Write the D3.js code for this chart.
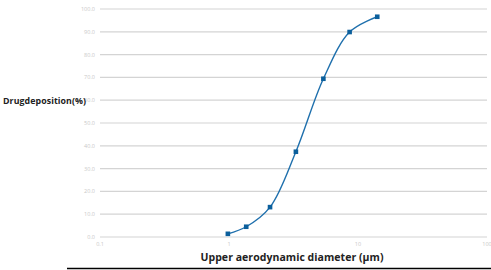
<!DOCTYPE html>
<html>
<head>
<meta charset="utf-8">
<script src="https://cdn.jsdelivr.net/npm/d3@7"></script>
<style>
  body { margin: 0; background: #fff; }
  text { font-family: "Open Sans", "Noto Sans", sans-serif; }
</style>
</head>
<body>
<svg width="491" height="270"></svg>
<script>
const svg = d3.select('svg')

// cut-off diameters (µm) and cumulative deposition (%)
const diameters = [0.98, 1.36, 2.08, 3.30, 5.39, 8.61, 14.1]
const deposition = [1.4, 4.5, 13.1, 37.4, 69.4, 89.9, 96.6]
const yTicks = [0, 10, 20, 30, 40, 50, 60, 70, 80, 90, 100]
const xTicks = [0.1, 1, 10, 100]

const points = diameters.map((d, i) => ({ x: d, y: deposition[i] }))

const x = d3.scaleLog()
    .domain([0.1, 100])
    .range([100, 487])

const y = d3.scaleLinear()
    .domain([0, 100])
    .range([237, 9])

// gridlines
svg.append('g')
    .selectAll('line')
    .data(yTicks)
    .enter().append('line')
        .attr('x1', 100)
        .attr('x2', 487)
        .attr('y1', d => y(d))
        .attr('y2', d => y(d))
        .attr('stroke', '#d4d4d4')
        .attr('stroke-width', 1.2)

// y tick labels
svg.append('g')
    .selectAll('text')
    .data(yTicks)
    .enter().append('text')
        .attr('x', 95)
        .attr('y', d => y(d))
        .attr('dy', '0.35em')
        .attr('text-anchor', 'end')
        .attr('font-size', 5.5)
        .attr('fill', '#c8c8c8')
        .text(d => d.toFixed(1))

// x tick labels
svg.append('g')
    .selectAll('text')
    .data(xTicks)
    .enter().append('text')
        .attr('x', d => x(d))
        .attr('y', 246)
        .attr('text-anchor', 'middle')
        .attr('font-size', 5.5)
        .attr('fill', '#c8c8c8')
        .text(d => d)

// curve
const line = d3.line()
    .x(d => x(d.x))
    .y(d => y(d.y))
    .curve(d3.curveCatmullRom.alpha(0.5))

svg.append('path')
    .datum(points)
    .attr('d', line)
    .attr('fill', 'none')
    .attr('stroke', '#1f70ad')
    .attr('stroke-width', 1.4)

// markers
const ms = 4.6
svg.append('g')
    .selectAll('rect')
    .data(points)
    .enter().append('rect')
        .attr('x', d => x(d.x) - ms / 2)
        .attr('y', d => y(d.y) - ms / 2)
        .attr('width', ms)
        .attr('height', ms)
        .attr('fill', '#0b5f9c')

// axis titles
svg.append('text')
    .attr('x', 3)
    .attr('y', 104)
    .attr('font-size', 8.8)
    .attr('font-weight', 'bold')
    .attr('fill', '#222')
    .attr('textLength', 83)
    .text('Drugdeposition(%)')

svg.append('text')
    .attr('x', 292)
    .attr('y', 261)
    .attr('text-anchor', 'middle')
    .attr('font-size', 10.5)
    .attr('font-weight', 'bold')
    .attr('fill', '#222')
    .attr('textLength', 183)
    .text('Upper aerodynamic diameter (μm)')

// bottom rule
svg.append('line')
    .attr('x1', 67)
    .attr('x2', 491)
    .attr('y1', 268.5)
    .attr('y2', 268.5)
    .attr('stroke', '#000')
    .attr('stroke-width', 1.5)
</script>
</body>
</html>
